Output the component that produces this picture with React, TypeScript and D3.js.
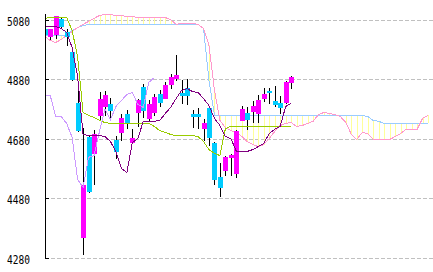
import React from "react";
import * as d3 from "d3";

// ---- data ----
const OPEN = [5050, 5026, 5033, 5083, 5040, 4972, 4801, 4351, 4687, 4633, 4761, 4791, 4798, 4677, 4704, 4764, 4670, 4771, 4855, 4751, 4771, 4831, 4818, 4865, 4885, 4835, 4851, 4764, 4764, 4717, 4784, 4667, 4552, 4576, 4620, 4566, 4744, 4767, 4774, 4767, 4818, 4841, 4808, 4801, 4804, 4872];
const HIGH = [5053, 5050, 5093, 5087, 5050, 4986, 4858, 4717, 4690, 4710, 4838, 4841, 4818, 4690, 4764, 4777, 4714, 4814, 4865, 4811, 4831, 4845, 4872, 4898, 4962, 4878, 4882, 4777, 4784, 4747, 4788, 4670, 4599, 4623, 4630, 4710, 4791, 4788, 4808, 4828, 4851, 4851, 4858, 4825, 4875, 4892];
const LOW = [5030, 5016, 5019, 5056, 4996, 4878, 4707, 4293, 4502, 4529, 4744, 4761, 4751, 4616, 4677, 4717, 4670, 4724, 4754, 4741, 4761, 4791, 4818, 4851, 4878, 4801, 4798, 4720, 4717, 4677, 4660, 4529, 4488, 4559, 4559, 4552, 4744, 4714, 4737, 4737, 4808, 4801, 4791, 4767, 4801, 4851];
const CLOSE = [5033, 5050, 5093, 5060, 5026, 4882, 4710, 4525, 4505, 4697, 4814, 4828, 4777, 4640, 4751, 4734, 4683, 4811, 4777, 4798, 4821, 4804, 4862, 4888, 4895, 4828, 4828, 4757, 4757, 4734, 4687, 4546, 4519, 4620, 4626, 4707, 4781, 4747, 4791, 4811, 4831, 4838, 4798, 4788, 4872, 4888];

const TENKAN = [5060, 5060, 5060, 5053, 5040, 4989, 4892, 4697, 4693, 4693, 4693, 4690, 4673, 4640, 4583, 4569, 4670, 4683, 4741, 4741, 4741, 4744, 4767, 4788, 4818, 4845, 4851, 4841, 4838, 4818, 4794, 4751, 4727, 4690, 4683, 4640, 4640, 4640, 4646, 4656, 4667, 4700, 4714, 4724, 4791, 4801];
const KIJUN = [5087, 5090, 5090, 5090, 5090, 5046, 4959, 4771, 4761, 4754, 4744, 4737, 4734, 4734, 4734, 4734, 4734, 4734, 4734, 4734, 4724, 4710, 4704, 4697, 4693, 4693, 4693, 4693, 4690, 4673, 4646, 4633, 4626, 4717, 4724, 4724, 4724, 4724, 4724, 4724, 4724, 4724, 4724, 4724, 4724, 4724];
const SENKOU_A = [5026, 5013, 5006, 5016, 5030, 5043, 5056, 5067, 5077, 5087, 5097, 5100, 5100, 5097, 5097, 5093, 5093, 5090, 5090, 5090, 5090, 5090, 5090, 5083, 5067, 5070, 5070, 5070, 5067, 5053, 4996, 4845, 4744, 4720, 4710, 4704, 4690, 4673, 4663, 4656, 4663, 4683, 4707, 4727, 4734, 4737, 4724, 4727, 4734, 4741, 4764, 4771, 4767, 4764, 4757, 4737, 4697, 4680, 4704, 4700, 4680, 4680, 4680, 4680, 4690, 4700, 4714, 4714, 4714, 4751, 4761];
const SENKOU_B = [5030, 5030, 5030, 5030, 5030, 5046, 5056, 5063, 5067, 5067, 5067, 5067, 5067, 5067, 5067, 5067, 5067, 5067, 5067, 5067, 5067, 5067, 5067, 5067, 5067, 5067, 5067, 5067, 5067, 5053, 4878, 4761, 4761, 4761, 4761, 4761, 4761, 4761, 4761, 4761, 4761, 4761, 4761, 4761, 4761, 4761, 4761, 4761, 4761, 4761, 4761, 4761, 4761, 4761, 4761, 4761, 4761, 4761, 4761, 4757, 4744, 4741, 4734, 4734, 4734, 4734, 4734, 4734, 4734, 4734, 4734];
const Y_TICKS = [4280, 4480, 4680, 4880, 5080];
const CHIKOU_SHIFT = 25;

const W = 433;
const H = 272;

export default function App() {
  const x = d3.scaleLinear().domain([0, 70]).range([44.75, 428]);
  const y = d3.scaleLinear().domain([4280, 5080]).range([258.5, 20.5]);
  const snap = (v: number) => Math.floor(v - 0.5) + 0.5;
  const cx = (i: number) => Math.round(x(i));

  const line = d3
    .line<number>()
    .x((_, i) => x(i))
    .y((d) => y(d));

  const chikou = CLOSE.slice(CHIKOU_SHIFT);

  return (
    <svg
      width={W}
      height={H}
      style={{ position: "absolute", left: 0, top: 0, background: "#fff" }}
    >
      <defs>
        <clipPath id="plot">
          <rect x={46} y={0} width={W - 46} height={H} />
        </clipPath>
      </defs>

      {/* grid */}
      {Y_TICKS.map((t) => (
        <line
          key={"g" + t}
          x1={45}
          x2={W}
          y1={snap(y(t))}
          y2={snap(y(t))}
          stroke="#c0c0c0"
          strokeDasharray="4,2"
          shapeRendering="crispEdges"
        />
      ))}

      <g clipPath="url(#plot)">
        {/* cloud hatch */}
        {SENKOU_A.map((a, i) => (
          <line
            key={"h" + i}
            x1={cx(i) + 0.5}
            x2={cx(i) + 0.5}
            y1={y(a)}
            y2={y(SENKOU_B[i])}
            stroke="#ffff99"
            shapeRendering="crispEdges"
          />
        ))}
        <path d={line(SENKOU_B) || ""} fill="none" stroke="#99ccff" shapeRendering="crispEdges" />
        <path d={line(SENKOU_A) || ""} fill="none" stroke="#ff99cc" shapeRendering="crispEdges" />

        {/* candles */}
        {OPEN.map((o, i) => {
          const c = CLOSE[i];
          const up = c > o;
          const top = Math.floor(y(Math.max(o, c)));
          const bot = Math.floor(y(Math.min(o, c)));
          const hx = cx(i);
          return (
            <g key={"c" + i}>
              <line
                x1={hx + 0.5}
                x2={hx + 0.5}
                y1={Math.floor(y(HIGH[i]))}
                y2={Math.floor(y(LOW[i])) + 1}
                stroke="#000"
                shapeRendering="crispEdges"
              />
              <rect
                x={hx - 2}
                y={top}
                width={5}
                height={Math.max(1, bot - top + 1)}
                fill={up ? "#ff00ff" : "#00ccff"}
                shapeRendering="crispEdges"
              />
            </g>
          );
        })}

        <path d={line(KIJUN) || ""} fill="none" stroke="#99cc00" shapeRendering="crispEdges" />
        <path d={line(chikou) || ""} fill="none" stroke="#cc99ff" shapeRendering="crispEdges" />
        <path d={line(TENKAN) || ""} fill="none" stroke="#800080" shapeRendering="crispEdges" />
      </g>

      {/* axis */}
      <line x1={45.5} x2={45.5} y1={14} y2={259} stroke="#000" shapeRendering="crispEdges" />
      {Y_TICKS.map((t) => (
        <g key={"t" + t}>
          <line
            x1={45}
            x2={49}
            y1={snap(y(t))}
            y2={snap(y(t))}
            stroke="#000"
            shapeRendering="crispEdges"
          />
          <text
            x={7}
            y={snap(y(t)) + 5}
            fontFamily="DejaVu Sans Mono"
            fontSize={13}
            textLength={23}
            lengthAdjust="spacingAndGlyphs"
            fill="#000"
          >
            {t}
          </text>
        </g>
      ))}
    </svg>
  );
}
